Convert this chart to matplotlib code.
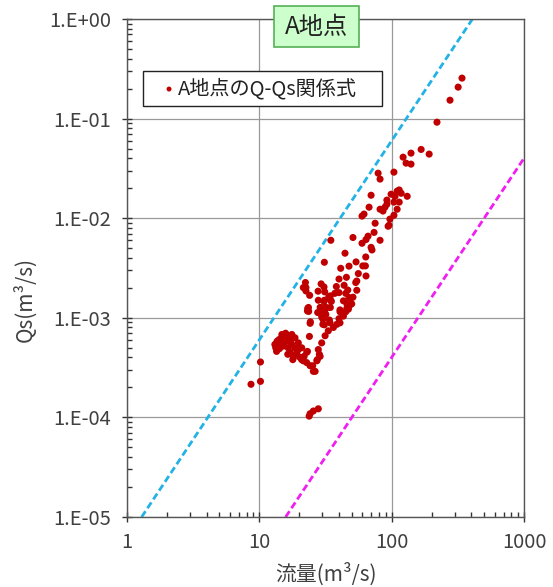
import matplotlib

matplotlib.use("Agg")
import matplotlib.pyplot as plt
from matplotlib.patches import Rectangle
from matplotlib.ticker import FixedLocator, LogLocator, NullFormatter, FuncFormatter

plt.rcParams["font.family"] = ["Noto Sans CJK JP", "DejaVu Sans"]

q_obs = [
    340, 318, 276, 220, 167, 140, 122, 192,
    128.5, 140, 104, 79, 81.7, 114, 92, 97,
    69.9, 99, 110, 118, 131, 106, 114, 104, 92, 67.5, 89, 110, 81.7, 86,
    61.8, 59.7, 104, 75, 95.5, 94, 73.6, 51, 66.3, 64, 81.7, 59.7, 69.9,
    34.7, 44.4, 31, 71, 63.7, 53.8, 47.6, 60.5, 63.3, 41.2, 56, 64, 45.5,
    40, 53.5, 43.7, 38.2, 22.3, 22.5, 29.3, 30.8, 54.5, 46.6, 54.5, 24,
    27.8, 37.2, 33.5, 30.8, 34.7, 51, 48.2, 46, 23.2, 23.6, 29.1, 32.5,
    27.6, 31.2, 40.7, 45, 47.6, 43.2, 29.6,
    21.5, 22.5, 31.2, 34.4, 40, 45, 27.9, 31, 35, 43.2, 47.6, 49.9, 23.5,
    28.8, 31.4, 34.4, 40.7, 45.8, 23.1, 28.4, 31.8, 24.3, 30.2, 33.8, 40, 31,
    24.2, 23.9, 16.1, 17.6, 13.9, 13.5, 15.2, 18.6, 19.7, 20.9, 17.1, 18.1,
    20.9, 22.8, 24.2, 25.6, 27.2, 28.8, 22.8, 29.6, 31.4, 33.2, 36.3, 38.5,
    30.2, 10.2, 10.2, 8.65, 24.2, 27.9, 25.6, 23.8, 14.3, 15.2, 17.9, 19.7,
    21.5, 23.1, 25.3, 26.4, 27.4, 28.4, 27.9, 34.2, 47.1, 40.7, 16.2, 13.1,
    14.5, 15.5, 16.8, 14.0, 13.3, 16.0, 17.5, 18.5, 16.5,
    14.8, 15.8, 17.0, 13.6, 14.2, 16.4, 18.0, 19.2, 20.3, 21.8,
]
qs_obs = [
    0.255, 0.207, 0.153, 0.092, 0.049, 0.045, 0.041, 0.044,
    0.0357, 0.0349, 0.029, 0.0283, 0.0247, 0.0192, 0.0138, 0.0098,
    0.0170, 0.0174, 0.0187, 0.0178, 0.0166, 0.0166, 0.0145, 0.0145, 0.0152, 0.0129, 0.0129, 0.0123, 0.0123, 0.0118,
    0.0110, 0.0105, 0.0107, 0.0089, 0.0085, 0.0083, 0.0072, 0.0064, 0.0066, 0.0061, 0.0060, 0.0056, 0.0051,
    0.0060, 0.00445, 0.00361, 0.0048, 0.00408, 0.00364, 0.0033, 0.00332, 0.00332, 0.00314, 0.00278, 0.00263, 0.00255,
    0.00245, 0.00226, 0.00212, 0.00206, 0.00226, 0.00201, 0.00219, 0.00204, 0.00234, 0.0019, 0.00189, 0.00168,
    0.00185, 0.00176, 0.00163, 0.00146, 0.00149, 0.00161, 0.00147, 0.00136, 0.00124, 0.00116, 0.00127, 0.00126,
    0.00113, 0.00113, 0.00115, 0.00115, 0.0013, 0.00104, 0.00102,
    0.00201, 0.00186, 0.00182, 0.00166, 0.00179, 0.00176, 0.0015, 0.0015, 0.00146, 0.00148, 0.0016, 0.00138, 0.00127,
    0.00127, 0.00128, 0.00127, 0.0012, 0.00124, 0.00117, 0.00113, 0.00108, 0.00091, 0.00097, 0.00095, 0.00098, 0.00085,
    0.00088, 0.00065, 0.00066, 0.00068, 0.00054, 0.00046, 0.00056, 0.00063, 0.00056, 0.0005, 0.00045, 0.0004,
    0.00038, 0.000355, 0.00033, 0.00029, 0.00037, 0.00041, 0.00045, 0.00056, 0.00066, 0.00074, 0.0008, 0.00086,
    0.00086, 0.00036, 0.00023, 0.000215, 0.000109, 0.000122, 0.000116, 0.000103, 0.00057, 0.00052, 0.00038, 0.00048,
    0.00037, 0.00046, 0.00033, 0.00029, 0.00038, 0.00043, 0.00048, 0.00089, 0.00122, 0.00089, 0.00061, 0.00054,
    0.00062, 0.00066, 0.00064, 0.0006, 0.0005, 0.00058, 0.00055, 0.0005, 0.0005,
    0.00068, 0.0007, 0.0006, 0.00058, 0.00049, 0.00043, 0.00042, 0.00044, 0.0004, 0.00041,
]

# envelope lines (end points)
upper_q = [1.29, 408]
upper_qs = [1e-5, 1.0]
lower_q = [15.8, 1000]
lower_qs = [1e-5, 0.04]

x_ticks = [1, 10, 100, 1000]
y_ticks = [1e-5, 1e-4, 1e-3, 1e-2, 1e-1, 1e0]

legend_label = "A地点のQ-Qs関係式"
title_text = "A地点"

INK = "#404040"
W, H = 553, 587

fig = plt.figure(figsize=(W / 100, H / 100), dpi=100)
ax = fig.add_axes([127 / W, 1 - 517 / H, 397 / W, 498 / H])
ax.set_xscale("log")
ax.set_yscale("log")
ax.set_xlim(1, 1000)
ax.set_ylim(1e-5, 1)

ax.grid(True, which="major", color="#999999", lw=0.9, zorder=0)
ax.set_axisbelow(True)

ax.plot(upper_q, upper_qs, color="#22B2E6", lw=2.0, ls=(0, (2.5, 1.3)), zorder=2)
ax.plot(lower_q, lower_qs, color="#F01EF0", lw=2.0, ls=(0, (2.5, 1.3)), zorder=2)
ax.scatter(q_obs, qs_obs, s=26, color="#C00000", edgecolors="none", zorder=3, label=legend_label)

ax.xaxis.set_major_locator(FixedLocator(x_ticks))
ax.yaxis.set_major_locator(FixedLocator(y_ticks))
ax.xaxis.set_minor_locator(LogLocator(base=10, subs=range(2, 10)))
ax.yaxis.set_minor_locator(LogLocator(base=10, subs=range(2, 10)))
ax.xaxis.set_minor_formatter(NullFormatter())
ax.yaxis.set_minor_formatter(NullFormatter())
ax.xaxis.set_major_formatter(FuncFormatter(lambda v, p: f"{v:g}"))
ax.yaxis.set_major_formatter(FuncFormatter(lambda v, p: "1.E" + f"{v:.0e}"[-3:]))

ax.tick_params(which="major", direction="inout", length=7, width=1, color="#333333",
               labelsize=14.5, labelcolor=INK)
ax.tick_params(axis="x", which="major", pad=7)
ax.tick_params(axis="y", which="major", pad=8)
ax.tick_params(which="minor", direction="in", length=3.3, width=1, color="#333333")
for s in ax.spines.values():
    s.set_color("#555555")
    s.set_linewidth(1.0)

fig.text(326 / W, 1 - 574 / H, "流量(m³/s)", ha="center", va="center", fontsize=15, color=INK)
fig.text(25 / W, 1 - 300 / H, "Qs(m³/s)", ha="center", va="center", rotation=90, fontsize=15, color=INK)

# legend box drawn as a plain frame, entry placed inside it
ax.add_patch(Rectangle((143 / W, 1 - 106 / H), 239 / W, 35 / H, transform=fig.transFigure,
                       facecolor="white", edgecolor="#222222", lw=1.0, zorder=5, clip_on=False))
leg = ax.legend(loc="center left", bbox_to_anchor=(163 / W, 1 - 88.5 / H), bbox_transform=fig.transFigure,
                borderaxespad=0, borderpad=0, frameon=False, fontsize=14.5, handlelength=0.6,
                handletextpad=0.15, markerscale=0.7)
leg.set_zorder(6)
for t in leg.get_texts():
    t.set_color("#222222")

fig.patches.append(Rectangle((274 / W, 1 - 47 / H), 85 / W, 41 / H, transform=fig.transFigure,
                             facecolor="#CCFFCC", edgecolor="#55B055", lw=1.2, zorder=5))
fig.text(316.5 / W, 1 - 27 / H, title_text, ha="center", va="center", fontsize=17.5, color="#222222", zorder=6)

fig.savefig("out.png", dpi=100, facecolor="white")
